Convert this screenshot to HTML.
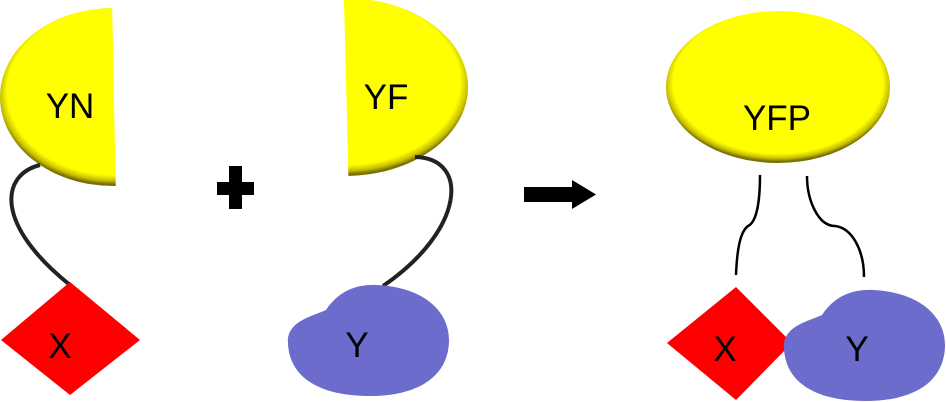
<!DOCTYPE html>
<html><head><meta charset="utf-8"><style>html,body{margin:0;padding:0;background:#fff}svg{display:block}</style></head>
<body>
<svg width="946" height="402" viewBox="0 0 946 402" xmlns="http://www.w3.org/2000/svg" font-family="Liberation Sans, sans-serif">
<defs>
<radialGradient id="g1" cx="0.5" cy="0.47" r="0.52">
<stop offset="0" stop-color="#ffff00"/><stop offset="0.9" stop-color="#ffff00"/><stop offset="0.96" stop-color="#c8c000"/><stop offset="1" stop-color="#7a7000"/></radialGradient>
<clipPath id="cn"><polygon points="0,0 112,0 116,200 0,200"/></clipPath>
<clipPath id="cf"><polygon points="344,0 470,0 470,200 349,200"/></clipPath>
</defs>
<ellipse cx="113" cy="97" rx="113" ry="89" fill="url(#g1)" clip-path="url(#cn)"/>
<ellipse cx="345" cy="87" rx="123" ry="89" fill="url(#g1)" clip-path="url(#cf)"/>
<ellipse cx="778" cy="87" rx="112" ry="76" fill="url(#g1)"/>
<path d="M40,165 C0,175 -5,225 70,285" fill="none" stroke="#222" stroke-width="4"/>
<path d="M415,157 C470,158 465,230 383,286" fill="none" stroke="#222" stroke-width="4"/>
<path d="M760,175 C760,200 757,222 748,226 C740,232 737,250 736,275" fill="none" stroke="#000" stroke-width="2.5"/>
<path d="M807,176 C807,200 818,226 835,226 C852,228 864,250 864,277" fill="none" stroke="#000" stroke-width="2.5"/>
<polygon points="1,340 70,282 140,340 70,395" fill="#ff0000"/>
<polygon points="667,343 736,287 792,343 736,400" fill="#ff0000"/>
<path d="M288,344 C286,322 310,317 326,310 C338,292 355,284 377,285 C422,287 449,310 449,340 C449,375 420,396 370,396 C320,396 290,378 288,344 Z" fill="#6b6ccc"/>
<path d="M784,349 C782,327 806,322 822,315 C834,297 851,289 873,290 C918,292 945,315 945,345 C945,380 916,401 866,401 C816,401 786,383 784,349 Z" fill="#6b6ccc"/>
<rect x="217" y="182" width="37" height="13" fill="#000"/>
<rect x="229" y="166" width="13" height="43" fill="#000"/>
<rect x="524" y="187" width="50" height="15" fill="#000"/>
<polygon points="572,180 596,194.5 572,209" fill="#000"/>
<g font-size="35" fill="#000" text-anchor="middle">
<text x="70" y="118">YN</text>
<text x="386" y="109">YF</text>
<text x="777" y="130">YFP</text>
<text x="60" y="358">X</text>
<text x="357" y="357">Y</text>
<text x="725" y="361">X</text>
<text x="857" y="361">Y</text>
</g>
</svg>
</body></html>
